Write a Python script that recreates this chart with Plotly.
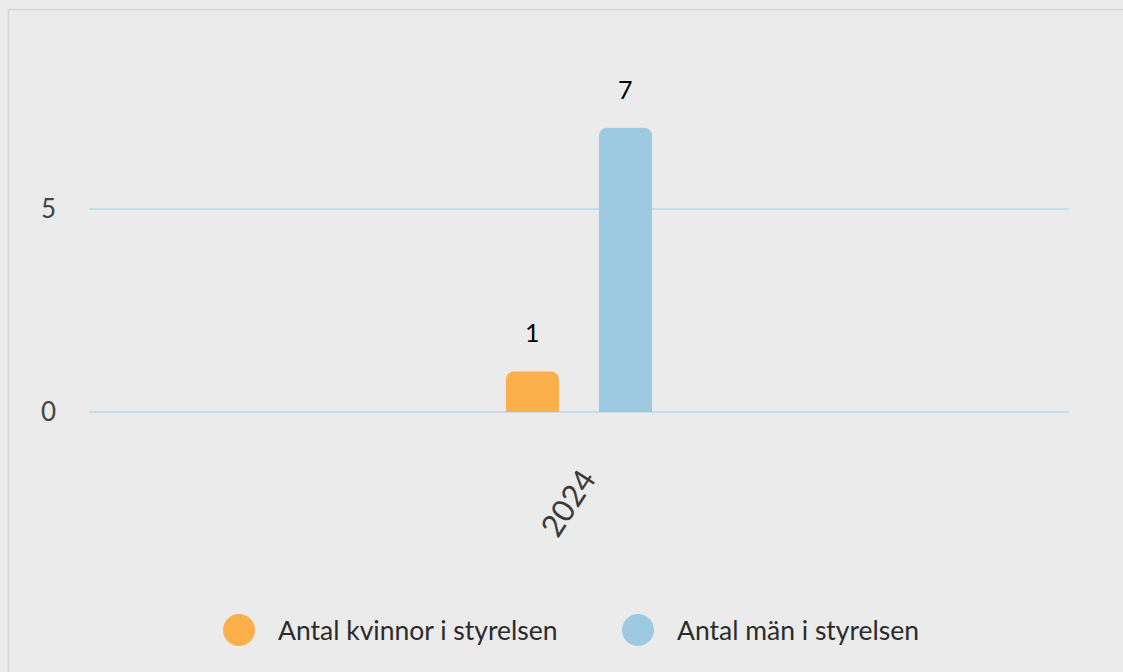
import plotly.graph_objects as go

categories = ["2024"]
women = [1]
men = [7]
series_names = ["Antal kvinnor i styrelsen", "Antal män i styrelsen"]
colors = ["#FBAF4B", "#9DC9E1"]
y_ticks = [0, 5]

W, H = 1123, 672
ML, MR, MT, MB = 89, 54, 87, 260
PW = W - ML - MR
PH = H - MT - MB

fig = go.Figure()
for name, vals, col in zip(series_names, [women, men], colors):
    fig.add_trace(go.Bar(
        x=categories, y=vals, name=name, marker=dict(color=col, line=dict(width=0)),
        showlegend=False, hoverinfo="x+y+name",
    ))

bargap = 0.81
bargroupgap = 0.43
slot = (1 - bargap) / 2 * PW
annotations = []
for i, vals in enumerate([women, men]):
    for ci, v in enumerate(vals):
        annotations.append(dict(
            x=ci, y=v, xref="x", yref="y", text=str(v), showarrow=False,
            xshift=(i - 0.5) * slot, yshift=39,
            font=dict(family="Lato", size=25, color="#000000"),
        ))

# manual legend (large circles)
def px2x(px):
    return (px - ML) / PW

def py2y(py):
    return (MT + PH - py) / PH

legend_items = [(239, 276), (638, 675)]
shapes = []
for (cx, tx), name, col in zip(legend_items, series_names, colors):
    shapes.append(dict(type="circle", xref="paper", yref="paper",
                       xsizemode="pixel", ysizemode="pixel",
                       xanchor=px2x(cx), yanchor=py2y(630),
                       x0=-16, x1=16, y0=-16, y1=16,
                       fillcolor=col, line=dict(width=0)))
    annotations.append(dict(x=px2x(tx), y=py2y(630), xref="paper", yref="paper",
                            text=name, showarrow=False, xanchor="left", yanchor="middle",
                            font=dict(family="Lato", size=26.5, color="#2B2B2B")))

# card border
shapes.append(dict(type="rect", xref="paper", yref="paper", layer="below",
                   x0=px2x(8.5), x1=px2x(1140), y0=py2y(9.5), y1=py2y(700),
                   line=dict(color="#D5D5D5", width=1.5), fillcolor="rgba(0,0,0,0)"))

fig.update_layout(
    width=W, height=H,
    margin=dict(l=ML, r=MR, t=MT, b=MB, autoexpand=False),
    paper_bgcolor="#EBEBEB", plot_bgcolor="#EBEBEB",
    barmode="group", bargap=bargap, bargroupgap=bargroupgap,
    barcornerradius=8,
    showlegend=False,
    annotations=annotations, shapes=shapes,
    font=dict(family="Lato", color="#444444"),
    xaxis=dict(type="category", showgrid=False, zeroline=False, showline=False, ticks="",
               tickangle=-57, tickfont=dict(family="Lato", size=31, color="#3A3A3A"),
               ticklabelstandoff=42, ticklabelshift=5),
    yaxis=dict(range=[0, 8], tickvals=y_ticks, showgrid=True, gridcolor="#C3DFEC",
               gridwidth=1.5, zeroline=True, zerolinecolor="#C3DFEC", zerolinewidth=1.5,
               showline=False, ticks="", ticklabelstandoff=32,
               tickfont=dict(family="Lato", size=26, color="#444444")),
)

fig.write_html(
    "out.html",
    config={"displayModeBar": False},
    post_script="document.body.style.margin='0';document.body.style.background='#EBEBEB';document.body.style.overflow='hidden';",
)
